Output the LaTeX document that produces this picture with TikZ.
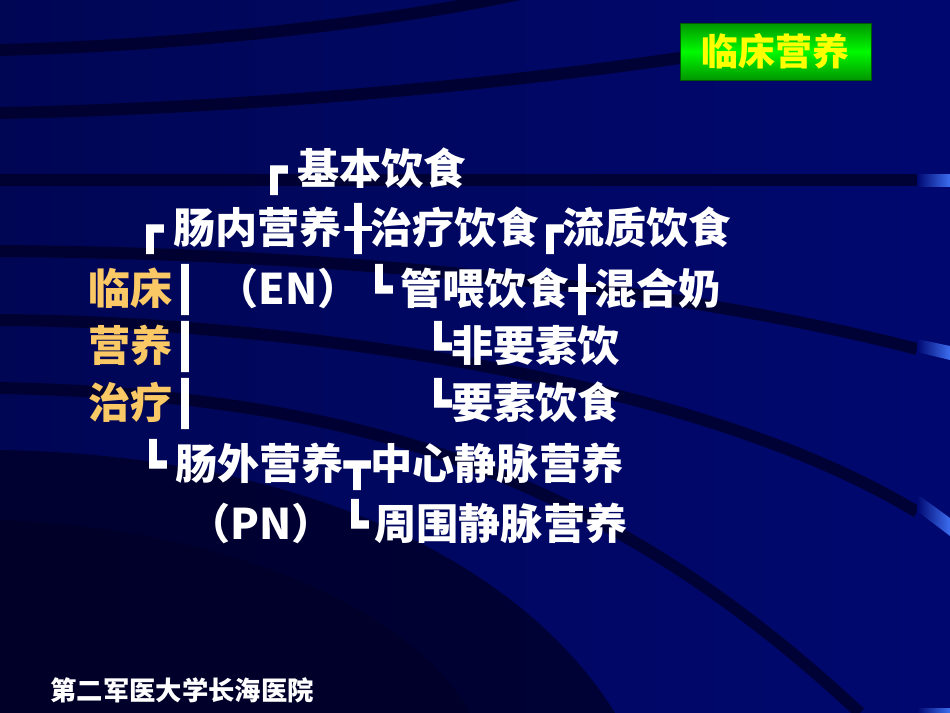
\documentclass[tikz,border=0pt]{standalone}
\usepackage{fontspec}
\newfontfamily\cjk{Noto Sans CJK SC}
\newfontfamily\boxfont{DejaVu Sans}[FakeBold=3]
\definecolor{navy}{RGB}{0,8,112}
\definecolor{navydark}{RGB}{0,0,36}
\definecolor{hlorange}{RGB}{250,200,100}
\definecolor{barblue}{RGB}{60,110,240}
\definecolor{titlegreen}{RGB}{0,150,0}
\definecolor{titlelight}{RGB}{0,250,0}
\definecolor{titleyellow}{RGB}{255,255,0}

\begin{document}
\begin{tikzpicture}[x=0.02cm,y=-0.02cm,
  txt/.style={anchor=base west,inner sep=0pt,text=white,font=\cjk\bfseries\fontsize{24}{24}\selectfont},
  hl/.style={txt,text=hlorange},
  bx/.style={anchor=base west,inner sep=0pt,text=white,font=\boxfont\fontsize{24}{24}\selectfont},
  band/.style={draw=navydark,line width=0.24cm,opacity=0.75}]
  \useasboundingbox (0,0) rectangle (950,713);

  % background
  \shade[left color=navy!75!black,right color=navy] (0,0) rectangle (950,713);
  \fill[navydark,opacity=0.75] (0,450) .. controls (300,455) and (520,560) .. (615,713) -- (0,713) -- cycle;
  \fill[navydark,opacity=0.5] (0,520) .. controls (250,530) and (420,620) .. (470,713) -- (0,713) -- cycle;
  \draw[band] (0,50) .. controls (200,45) and (400,20) .. (520,-6);
  \draw[band] (0,113) .. controls (250,108) and (500,85) .. (700,55);
  \draw[band] (0,180) -- (917,180);
  \draw[band] (0,251) .. controls (300,253) and (650,280) .. (917,349);
  \draw[band] (0,320) .. controls (300,322) and (700,380) .. (917,512);
  \draw[band] (0,388) .. controls (350,395) and (600,470) .. (860,713);
  \shade[left color=navy,right color=barblue] (917,174) rectangle (950,186);
  \shade[left color=navy,right color=barblue] (917,339) -- (950,346) -- (950,360) -- (917,352) -- cycle;
  \shade[left color=navy,right color=barblue] (917,494) -- (950,518) -- (950,536) -- (917,511) -- cycle;
  \shade[left color=navy,right color=barblue] (917,708) rectangle (950,713);

  \node[draw=titlegreen!60!black,top color=titlegreen,bottom color=titlegreen,middle color=titlelight,
    minimum width=3.82cm,minimum height=1.14cm,inner sep=0pt,text=titleyellow,
    font=\cjk\bfseries\fontsize{21}{21}\selectfont] (title) at (775.5,51.5) {临床营养};

  % line 1
  \node[bx] (k1) at (261,184) {┏};
  \node[txt] (jb) at (297,184) {基本饮食};
  % line 2
  \node[bx] (k2) at (137,243) {┏};
  \node[txt] (cn) at (173,243) {肠内营养};
  \node[bx] (k3) at (345,243) {╂};
  \node[txt] (zl) at (370,243) {治疗饮食};
  \node[bx] (k4) at (537,243) {┏};
  \node[txt] (lz) at (562,243) {流质饮食};
  % line 3
  \node[hl] (h1) at (88,304) {临床};
  \node[bx] (v1) at (172,304) {┃};
  \node[txt] (en) at (216,304) {（EN）};
  \node[bx] (k5) at (366,304) {┗};
  \node[txt] (gw) at (400,304) {管喂饮食};
  \node[bx] (k6) at (569,304) {╂};
  \node[txt] (hh) at (594,304) {混合奶};
  % line 4
  \node[hl] (h2) at (88,361) {营养};
  \node[bx] (v2) at (172,361) {┃};
  \node[bx] (k7) at (425,361) {┗};
  \node[txt] (fy) at (451,361) {非要素饮};
  % line 5
  \node[hl] (h3) at (88,418) {治疗};
  \node[bx] (v3) at (172,418) {┃};
  \node[bx] (k8) at (425,418) {┗};
  \node[txt] (ys) at (451,418) {要素饮食};
  % line 6
  \node[bx] (k9) at (140,479) {┗};
  \node[txt] (cw) at (175,479) {肠外营养};
  \node[bx] (k10) at (344,479) {┳};
  \node[txt] (zx) at (370,479) {中心静脉营养};
  % line 7
  \node[txt] (pn) at (188,539) {（PN）};
  \node[bx] (k11) at (342,539) {┗};
  \node[txt] (zw) at (374,539) {周围静脉营养};

  \node[anchor=base west,inner sep=0pt,text=white,font=\cjk\bfseries\fontsize{15}{15}\selectfont] (footer) at (50,700) {第二军医大学长海医院};
\end{tikzpicture}
\end{document}
